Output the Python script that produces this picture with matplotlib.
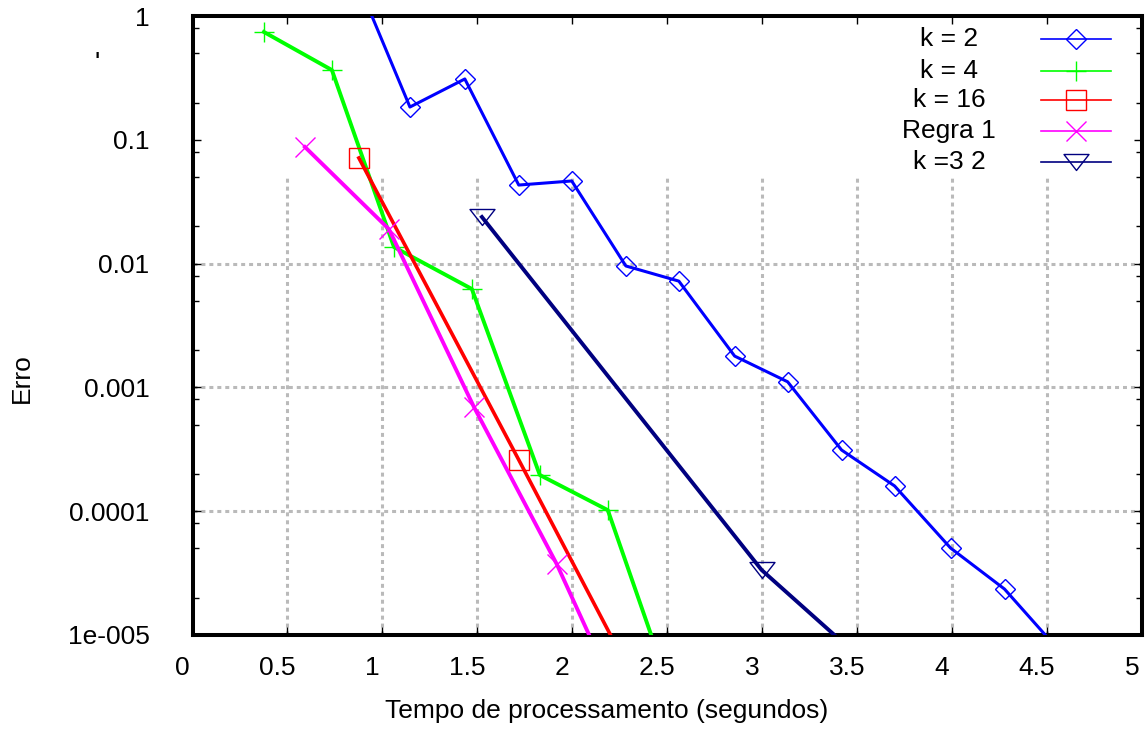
import matplotlib.pyplot as plt
import numpy as np
from matplotlib.lines import Line2D
from matplotlib.path import Path
from matplotlib.ticker import LogLocator, NullFormatter, FixedLocator
from matplotlib.transforms import ScaledTranslation

plt.rcParams['font.family'] = ['Liberation Sans', 'DejaVu Sans']
plt.rcParams['font.size'] = 19

# values (x in seconds, y = error)
k2_x = [0.855, 1.145, 1.434, 1.718, 1.997, 2.282, 2.561, 2.855, 3.134, 3.418, 3.697, 3.992, 4.276, 4.56]
k2_y = [2.13, 0.184, 0.31, 0.0431, 0.0465, 0.00957, 0.00722, 0.00179, 0.00111, 3.12e-4, 1.6e-4, 5.04e-5, 2.35e-5, 7.6e-6]

k4_x = [0.376, 0.734, 1.061, 1.471, 1.829, 2.187, 2.55]
k4_y = [0.743, 0.366, 0.0136, 0.00624, 1.96e-4, 1.02e-4, 2.54e-6]

k16_x = [0.876, 1.718, 2.56]
k16_y = [0.0713, 2.6e-4, 8.9e-7]

regra_x = [0.592, 1.034, 1.482, 1.918, 2.36]
regra_y = [0.0875, 0.019, 6.95e-4, 3.74e-5, 1.23e-6]

k32_x = [1.524, 2.997, 3.6]
k32_y = [0.0238, 3.35e-5, 5.0e-6]

labels = ['k = 2', 'k = 4', 'k = 16', 'Regra 1', 'k =3 2']
colors = ['#0000ff', '#00ff00', '#ff0000', '#ff00ff', '#000080']

xticks = [0, 0.5, 1, 1.5, 2, 2.5, 3, 3.5, 4, 4.5, 5]
xtick_labels = ['0', '0.5', '1', '1.5', '2', '2.5', '3', '3.5', '4', '4.5', '5']
yticks = [1e-5, 1e-4, 1e-3, 1e-2, 1e-1, 1]
ytick_labels = ['1e-005', '0.0001', '0.001', '0.01', '0.1', '1']

# wide flat triangle pointing down, like gnuplot's
tri = Path([(-1, 0.64), (1, 0.64), (0, -0.64), (-1, 0.64)], closed=True)
markers = ['D', '+', 's', 'x', tri]
msizes = [9.7, 13.7, 13.7, 13.7, 18]
lwidths = [2.2, 2.8, 2.6, 2.8, 2.8]

W, H = 1146, 734
fig = plt.figure(figsize=(W / 100, H / 100), dpi=100)
ax = fig.add_axes([192.5 / W, 99 / H, 949.5 / W, 619 / H])
ax.set_yscale('log')
ax.set_xlim(0, 5)
ax.set_ylim(1e-5, 1)

# grid only below the (opaque) key area
grid_kw = dict(color='#bababa', lw=2.2, linestyle=(0, (1.3, 1.3)), zorder=1)
for gx in xticks[1:-1]:
    ax.plot([gx, gx], [1e-5, 0.0491], **grid_kw)
for gy in [1e-2, 1e-3, 1e-4]:
    ax.plot([0, 5], [gy, gy], **grid_kw)

series = [(k2_x, k2_y, None), (k4_x, k4_y, None), (k16_x, k16_y, [0, 1]),
          (regra_x, regra_y, None), (k32_x, k32_y, [0, 1])]
for i, (xs, ys, every) in enumerate(series):
    ax.plot(xs, ys, color=colors[i], lw=lwidths[i], zorder=3,
            marker=markers[i], ms=msizes[i], mfc='none', mec=colors[i], mew=1.0,
            markevery=every)

ax.xaxis.set_major_locator(FixedLocator(xticks))
ax.set_xticklabels(xtick_labels)
ax.yaxis.set_major_locator(FixedLocator(yticks))
ax.set_yticklabels(ytick_labels)
ax.yaxis.set_minor_locator(LogLocator(base=10, subs=(2, 5, 8)))
ax.yaxis.set_minor_formatter(NullFormatter())

ax.tick_params(which='both', direction='in', top=True, right=True, color='black', width=1)
ax.tick_params(which='major', length=6)
ax.tick_params(which='minor', length=4)
ax.tick_params(axis='x', pad=15)
ax.tick_params(axis='y', pad=31)
for sp in ax.spines.values():
    sp.set_linewidth(2.9)

# gnuplot put the x numbers a little left of their ticks
shift = ScaledTranslation(-10 / 100, 0, fig.dpi_scale_trans)
for lbl in ax.xaxis.get_majorticklabels():
    lbl.set_transform(lbl.get_transform() + shift)

fig.text(22 / W, 1 - 378 / H, 'Erro', rotation=90, ha='center', va='center')
fig.text(607 / W, 1 - 711 / H, 'Tempo de processamento (segundos)', ha='center', va='center')
fig.text(97 / W, 1 - 64 / H, "'", ha='center', va='center', fontsize=20)

# key, drawn by hand to keep the centred text of the original
rows_y = [39, 71, 100, 131, 162]
for i, lab in enumerate(labels):
    yy = 1 - rows_y[i] / H
    fig.text(949 / W, yy, lab, ha='center', va='center')
    fig.add_artist(Line2D([1041 / W, 1111 / W], [yy, yy], transform=fig.transFigure,
                          color=colors[i], lw=1.2))
    fig.add_artist(Line2D([1076 / W], [yy], transform=fig.transFigure, color=colors[i],
                          marker=markers[i], ms=msizes[i], mfc='none', mec=colors[i], mew=1.0))

fig.savefig('out.png', dpi=100)
